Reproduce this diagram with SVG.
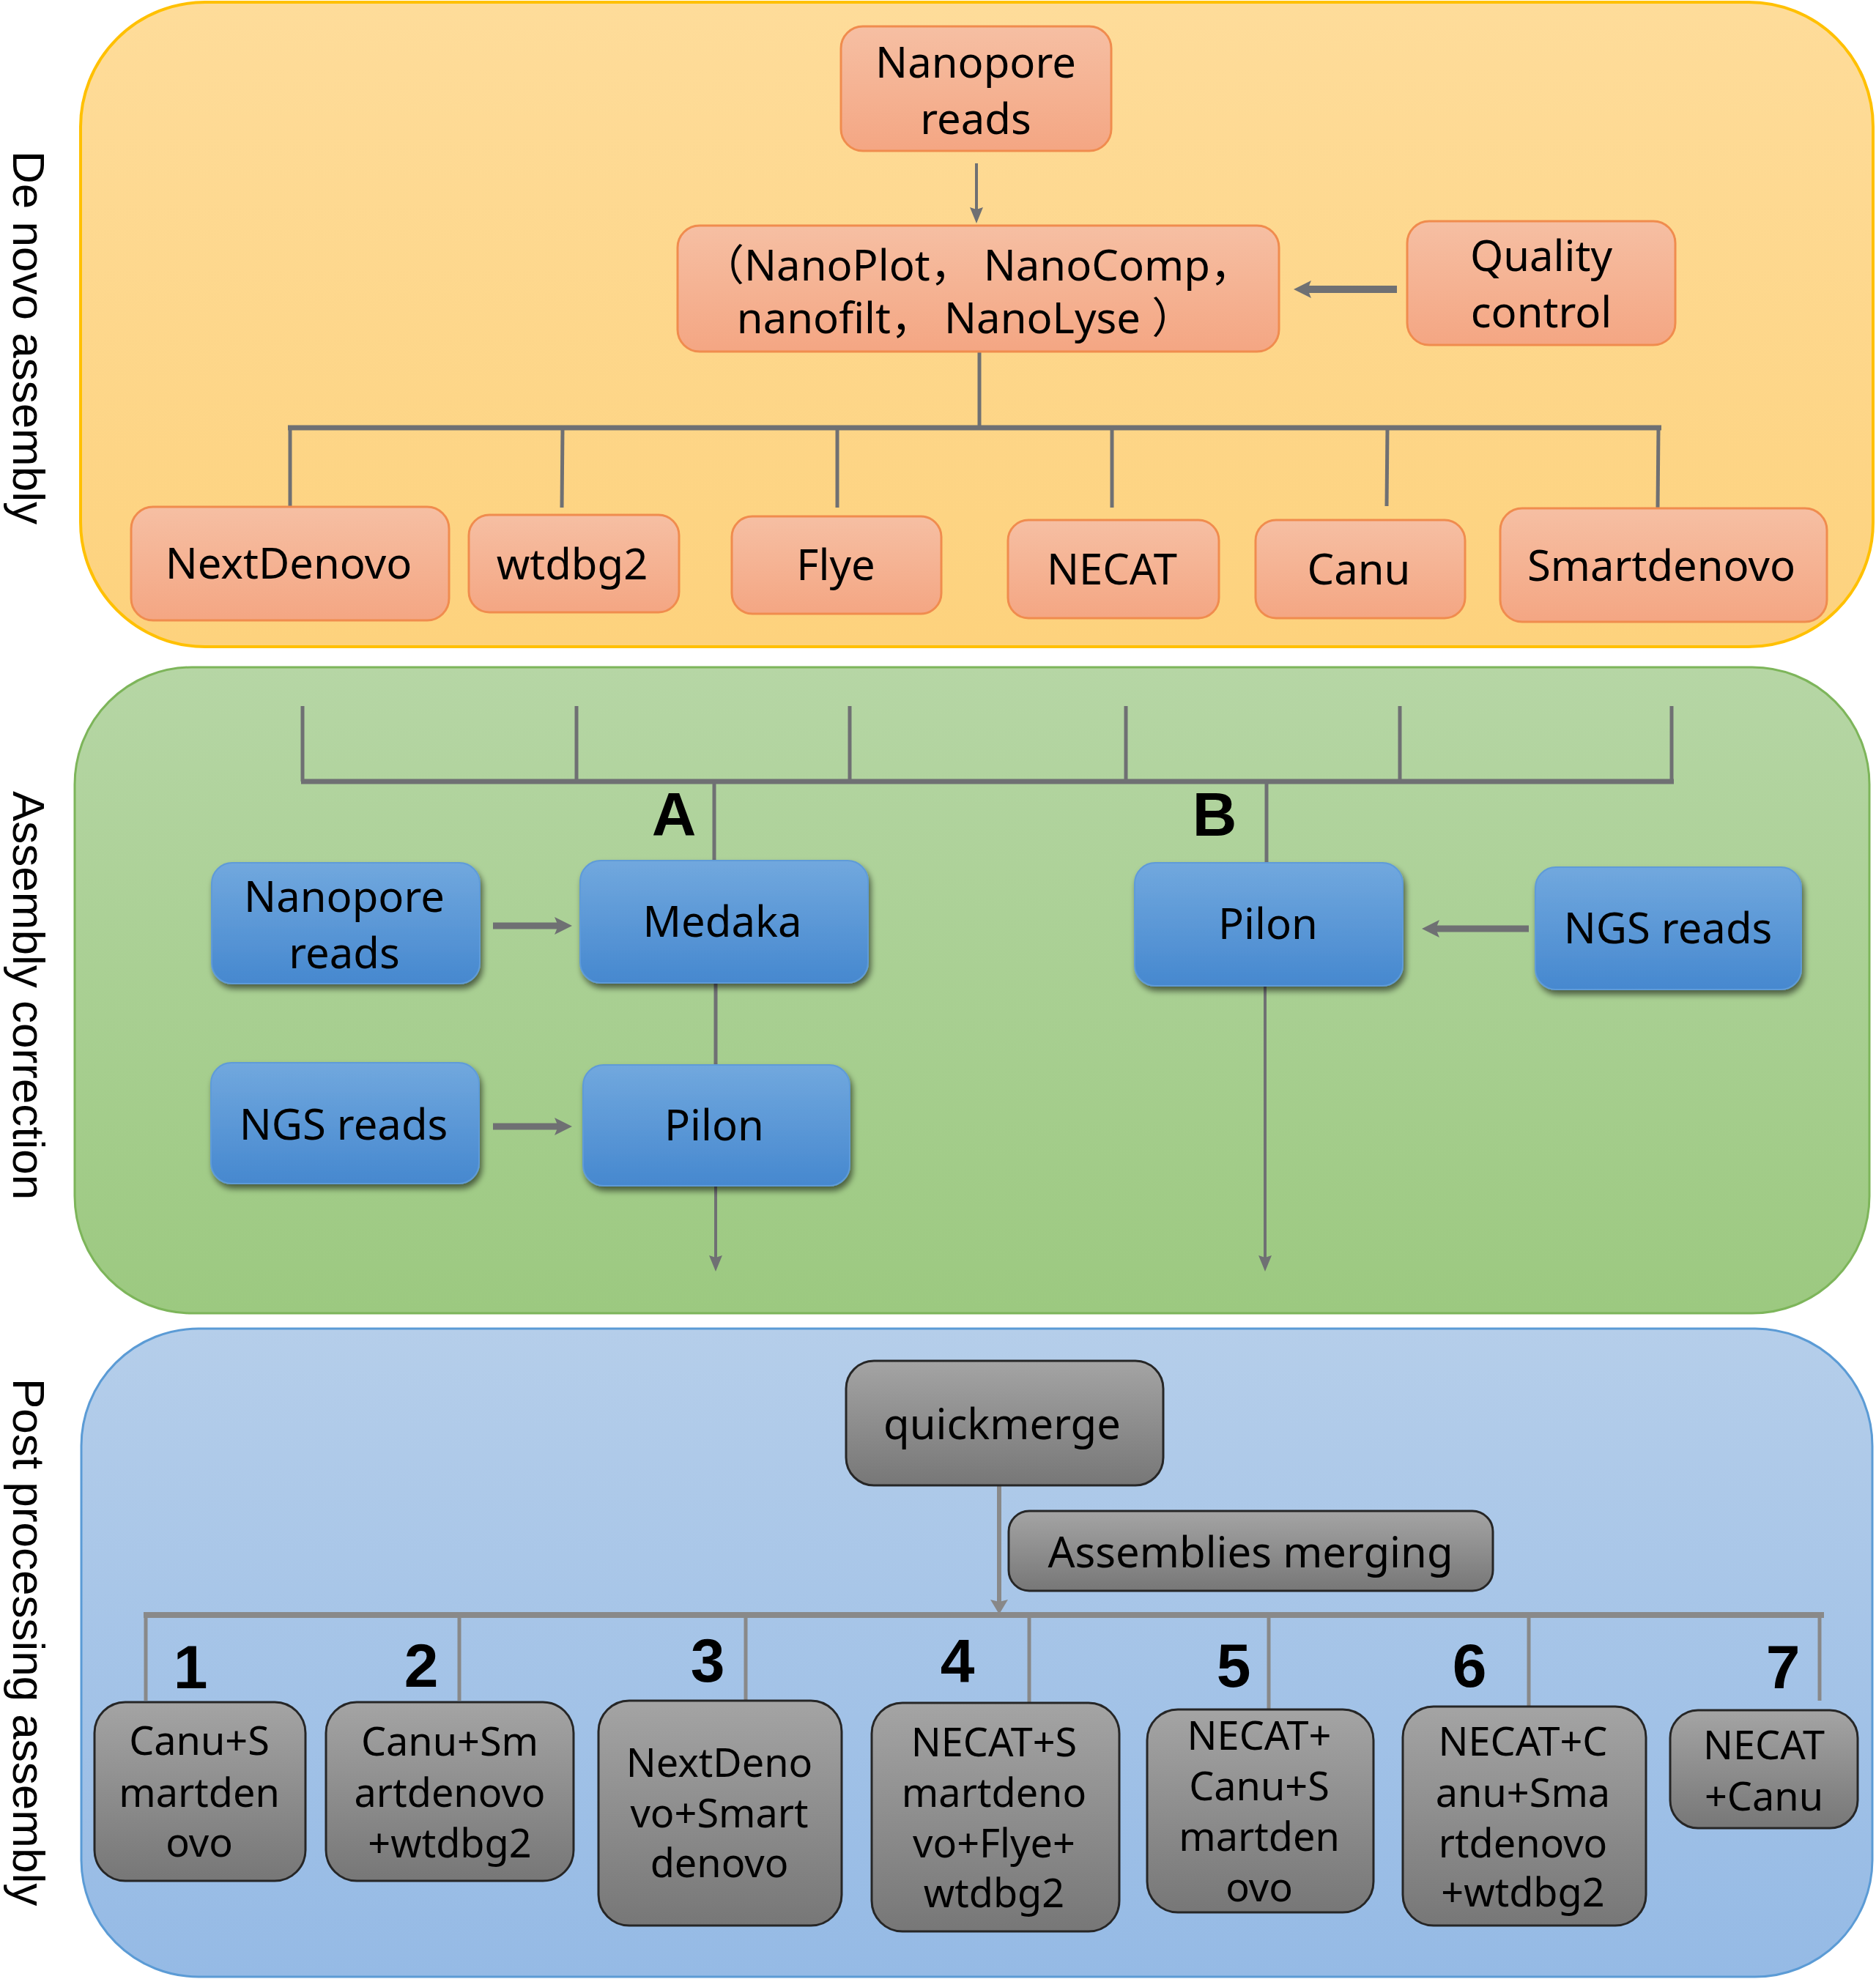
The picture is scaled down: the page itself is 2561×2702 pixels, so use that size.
<svg xmlns="http://www.w3.org/2000/svg" width="2561" height="2702" viewBox="0 0 2561 2702">
<defs>
<linearGradient id="gYP" x1="0" y1="0" x2="0" y2="1"><stop offset="0" stop-color="#FEDC9A"/><stop offset="1" stop-color="#FDD27D"/></linearGradient>
<linearGradient id="gGP" x1="0" y1="0" x2="0" y2="1"><stop offset="0" stop-color="#B6D6A5"/><stop offset="1" stop-color="#9CC980"/></linearGradient>
<linearGradient id="gBP" x1="0" y1="0" x2="0" y2="1"><stop offset="0" stop-color="#B5CEEA"/><stop offset="1" stop-color="#95BAE5"/></linearGradient>
<linearGradient id="gSal" x1="0" y1="0" x2="0" y2="1"><stop offset="0" stop-color="#F6BFA3"/><stop offset="1" stop-color="#F4A683"/></linearGradient>
<linearGradient id="gBlu" x1="0" y1="0" x2="0" y2="1"><stop offset="0" stop-color="#71A8DE"/><stop offset="1" stop-color="#4688CF"/></linearGradient>
<linearGradient id="gGry" x1="0" y1="0" x2="0" y2="1"><stop offset="0" stop-color="#A4A4A4"/><stop offset="1" stop-color="#777777"/></linearGradient>
<filter id="shadow" x="-10%" y="-10%" width="125%" height="130%">
<feGaussianBlur in="SourceAlpha" stdDeviation="4"/>
<feOffset dx="3" dy="6" result="b"/>
<feComponentTransfer><feFuncA type="linear" slope="0.55"/></feComponentTransfer>
<feMerge><feMergeNode/><feMergeNode in="SourceGraphic"/></feMerge>
</filter>
<marker id="aThick" markerUnits="userSpaceOnUse" markerWidth="26" markerHeight="26" refX="5" refY="12" orient="auto">
<path d="M0,0 L24,12 L0,24 L5,12 Z" fill="#6F7073"/>
</marker>
<marker id="aThin" markerUnits="userSpaceOnUse" markerWidth="24" markerHeight="20" refX="3" refY="9" orient="auto">
<path d="M0,0 L22,9 L0,18 L3,9 Z" fill="#6F7073"/>
</marker>
<marker id="aThinG" markerUnits="userSpaceOnUse" markerWidth="22" markerHeight="26" refX="3" refY="12" orient="auto">
<path d="M0,0 L20,12 L0,24 L3,12 Z" fill="#888888"/>
</marker>
</defs>
<style>
.side{font-family:"Liberation Sans",Arial,sans-serif;font-size:62px;fill:#000}
.t{font-family:"Noto Sans","Noto Sans CJK SC",sans-serif;font-size:58px;fill:#000;text-anchor:middle}
.ts{font-family:"Noto Sans","Noto Sans CJK SC",sans-serif;font-size:54px;fill:#000;text-anchor:middle}
.lbl{font-family:"Liberation Sans",Arial,sans-serif;font-weight:bold;font-size:84px;fill:#000;text-anchor:middle}
.sal{fill:url(#gSal);stroke:#F08C4E;stroke-width:3}
.blu{fill:url(#gBlu);stroke:#5E9BD8;stroke-width:2;filter:url(#shadow)}
.gry{fill:url(#gGry);stroke:#262626;stroke-width:3}
.ln{stroke:#6F7073;fill:none}
.lg{stroke:#898989;fill:none}
</style>

<!-- panels -->
<g id="panel-denovo">
<rect x="110" y="3" width="2447" height="880" rx="170" fill="url(#gYP)" stroke="#FFC000" stroke-width="4"/>
<text class="side" transform="translate(18,206) rotate(90)">De novo assembly</text>
</g>
<g id="panel-correction">
<rect x="102" y="911" width="2450" height="882" rx="160" fill="url(#gGP)" stroke="#7DB55A" stroke-width="3"/>
<text class="side" transform="translate(18,1080) rotate(90)">Assembly correction</text>
</g>
<g id="panel-post">
<rect x="111" y="1814" width="2445" height="885" rx="160" fill="url(#gBP)" stroke="#5B9BD5" stroke-width="3"/>
<text class="side" transform="translate(18,1882) rotate(90)">Post processing assembly</text>
</g>

<!-- connectors -->
<g id="connectors">
<line class="ln" x1="1333" y1="223" x2="1333" y2="286" stroke-width="4" marker-end="url(#aThin)"/>
<line class="ln" x1="1907" y1="395" x2="1785" y2="395" stroke-width="10" marker-end="url(#aThick)"/>
<line class="ln" x1="1337" y1="480" x2="1337" y2="584" stroke-width="5"/>
<line class="ln" x1="393" y1="584" x2="2268" y2="584" stroke-width="7"/>
<line class="ln" x1="396" y1="584" x2="396" y2="692" stroke-width="5"/>
<line class="ln" x1="768" y1="584" x2="767" y2="693" stroke-width="5"/>
<line class="ln" x1="1143" y1="584" x2="1143" y2="693" stroke-width="5"/>
<line class="ln" x1="1518" y1="584" x2="1518" y2="693" stroke-width="5"/>
<line class="ln" x1="1894" y1="584" x2="1893" y2="691" stroke-width="5"/>
<line class="ln" x1="2264" y1="584" x2="2263" y2="694" stroke-width="5"/>

<line class="ln" x1="413" y1="964" x2="413" y2="1067" stroke-width="5"/>
<line class="ln" x1="787" y1="964" x2="787" y2="1067" stroke-width="5"/>
<line class="ln" x1="1160" y1="964" x2="1160" y2="1067" stroke-width="5"/>
<line class="ln" x1="1537" y1="964" x2="1537" y2="1067" stroke-width="5"/>
<line class="ln" x1="1911" y1="964" x2="1911" y2="1067" stroke-width="5"/>
<line class="ln" x1="2282" y1="964" x2="2282" y2="1067" stroke-width="5"/>
<line class="ln" x1="411" y1="1067" x2="2285" y2="1067" stroke-width="7"/>
<line class="ln" x1="975" y1="1067" x2="975" y2="1175" stroke-width="5"/>
<line class="ln" x1="1729" y1="1067" x2="1729" y2="1178" stroke-width="5"/>
<line class="ln" x1="673" y1="1264" x2="762" y2="1264" stroke-width="9" marker-end="url(#aThick)"/>
<line class="ln" x1="673" y1="1538" x2="762" y2="1538" stroke-width="9" marker-end="url(#aThick)"/>
<line class="ln" x1="2087" y1="1268" x2="1960" y2="1268" stroke-width="9" marker-end="url(#aThick)"/>
<line class="ln" x1="977" y1="1343" x2="977" y2="1454" stroke-width="5"/>
<line class="ln" x1="977" y1="1619" x2="977" y2="1717" stroke-width="4" marker-end="url(#aThin)"/>
<line class="ln" x1="1727" y1="1346" x2="1727" y2="1717" stroke-width="4" marker-end="url(#aThin)"/>

<line class="lg" x1="1364" y1="2028" x2="1364" y2="2187" stroke-width="6" marker-end="url(#aThinG)"/>
<line class="lg" x1="196" y1="2205" x2="2490" y2="2205" stroke-width="8"/>
<line class="lg" x1="199" y1="2205" x2="199" y2="2322" stroke-width="5"/>
<line class="lg" x1="627" y1="2205" x2="627" y2="2322" stroke-width="5"/>
<line class="lg" x1="1018" y1="2205" x2="1018" y2="2322" stroke-width="5"/>
<line class="lg" x1="1405" y1="2205" x2="1405" y2="2325" stroke-width="5"/>
<line class="lg" x1="1732" y1="2205" x2="1732" y2="2334" stroke-width="5"/>
<line class="lg" x1="2087" y1="2205" x2="2087" y2="2330" stroke-width="5"/>
<line class="lg" x1="2484" y1="2205" x2="2484" y2="2322" stroke-width="5"/>
</g>

<!-- De novo assembly nodes -->
<g id="n-nanopore-reads-top">
<rect class="sal" x="1148" y="36" width="369" height="170" rx="30"/>
<text class="t" x="1332" y="106">Nanopore</text>
<text class="t" x="1332" y="183">reads</text>
</g>
<g id="n-qc-tools">
<rect class="sal" x="925" y="308" width="821" height="172" rx="30"/>
<text class="t" x="1334" y="383">（NanoPlot，  NanoComp，</text>
<text class="t" x="1318" y="455">nanofilt，  NanoLyse ）</text>
</g>
<g id="n-quality-control">
<rect class="sal" x="1921" y="302" width="366" height="169" rx="30"/>
<text class="t" x="2104" y="370">Quality</text>
<text class="t" x="2104" y="447">control</text>
</g>
<g id="n-nextdenovo">
<rect class="sal" x="179" y="692" width="434" height="155" rx="30"/>
<text class="t" x="394" y="790">NextDenovo</text>
</g>
<g id="n-wtdbg2">
<rect class="sal" x="640" y="703" width="287" height="133" rx="28"/>
<text class="t" x="781" y="791">wtdbg2</text>
</g>
<g id="n-flye">
<rect class="sal" x="999" y="705" width="286" height="133" rx="28"/>
<text class="t" x="1141" y="792">Flye</text>
</g>
<g id="n-necat">
<rect class="sal" x="1376" y="710" width="288" height="134" rx="28"/>
<text class="t" x="1518" y="798">NECAT</text>
</g>
<g id="n-canu">
<rect class="sal" x="1714" y="710" width="286" height="134" rx="28"/>
<text class="t" x="1855" y="798">Canu</text>
</g>
<g id="n-smartdenovo">
<rect class="sal" x="2048" y="694" width="446" height="155" rx="30"/>
<text class="t" x="2268" y="793">Smartdenovo</text>
</g>

<!-- Assembly correction nodes -->
<g id="lbl-A"><text class="lbl" x="920" y="1141">A</text></g>
<g id="lbl-B"><text class="lbl" x="1658" y="1141">B</text></g>
<g id="n-nanopore-reads-A">
<rect class="blu" x="289" y="1178" width="366" height="165" rx="28"/>
<text class="t" x="470" y="1245">Nanopore</text>
<text class="t" x="470" y="1322">reads</text>
</g>
<g id="n-medaka">
<rect class="blu" x="792" y="1175" width="393" height="167" rx="28"/>
<text class="t" x="986" y="1279">Medaka</text>
</g>
<g id="n-ngs-reads-A">
<rect class="blu" x="288" y="1451" width="366" height="165" rx="28"/>
<text class="t" x="469" y="1556">NGS reads</text>
</g>
<g id="n-pilon-A">
<rect class="blu" x="796" y="1454" width="364" height="165" rx="28"/>
<text class="t" x="975" y="1557">Pilon</text>
</g>
<g id="n-pilon-B">
<rect class="blu" x="1549" y="1178" width="366" height="168" rx="28"/>
<text class="t" x="1731" y="1282">Pilon</text>
</g>
<g id="n-ngs-reads-B">
<rect class="blu" x="2096" y="1184" width="363" height="167" rx="28"/>
<text class="t" x="2277" y="1288">NGS reads</text>
</g>

<!-- Post processing nodes -->
<g id="n-quickmerge">
<rect class="gry" x="1155" y="1858" width="433" height="170" rx="38"/>
<text class="t" x="1368" y="1965">quickmerge</text>
</g>
<g id="n-assemblies-merging">
<rect class="gry" x="1377" y="2063" width="661" height="109" rx="28"/>
<text class="t" x="1707" y="2140">Assemblies merging</text>
</g>
<g id="num-1"><text class="lbl" x="260" y="2305">1</text></g>
<g id="num-2"><text class="lbl" x="575" y="2303">2</text></g>
<g id="num-3"><text class="lbl" x="966" y="2296">3</text></g>
<g id="num-4"><text class="lbl" x="1307" y="2297">4</text></g>
<g id="num-5"><text class="lbl" x="1684" y="2303">5</text></g>
<g id="num-6"><text class="lbl" x="2006" y="2303">6</text></g>
<g id="num-7"><text class="lbl" x="2434" y="2305">7</text></g>
<g id="n-combo-1">
<rect class="gry" x="129" y="2324" width="288" height="244" rx="42"/>
<text class="ts" x="272" y="2396">Canu+S</text>
<text class="ts" x="272" y="2467">martden</text>
<text class="ts" x="272" y="2535">ovo</text>
</g>
<g id="n-combo-2">
<rect class="gry" x="445" y="2324" width="338" height="244" rx="42"/>
<text class="ts" x="614" y="2397">Canu+Sm</text>
<text class="ts" x="614" y="2467">artdenovo</text>
<text class="ts" x="614" y="2536">+wtdbg2</text>
</g>
<g id="n-combo-3">
<rect class="gry" x="817" y="2322" width="332" height="307" rx="42"/>
<text class="ts" x="982" y="2426">NextDeno</text>
<text class="ts" x="982" y="2495">vo+Smart</text>
<text class="ts" x="982" y="2563">denovo</text>
</g>
<g id="n-combo-4">
<rect class="gry" x="1190" y="2325" width="338" height="312" rx="42"/>
<text class="ts" x="1357" y="2398">NECAT+S</text>
<text class="ts" x="1357" y="2467">martdeno</text>
<text class="ts" x="1357" y="2536">vo+Flye+</text>
<text class="ts" x="1357" y="2604">wtdbg2</text>
</g>
<g id="n-combo-5">
<rect class="gry" x="1566" y="2334" width="309" height="277" rx="42"/>
<text class="ts" x="1719" y="2389">NECAT+</text>
<text class="ts" x="1719" y="2458">Canu+S</text>
<text class="ts" x="1719" y="2527">martden</text>
<text class="ts" x="1719" y="2596">ovo</text>
</g>
<g id="n-combo-6">
<rect class="gry" x="1915" y="2330" width="332" height="299" rx="42"/>
<text class="ts" x="2079" y="2397">NECAT+C</text>
<text class="ts" x="2079" y="2467">anu+Sma</text>
<text class="ts" x="2079" y="2536">rtdenovo</text>
<text class="ts" x="2079" y="2603">+wtdbg2</text>
</g>
<g id="n-combo-7">
<rect class="gry" x="2280" y="2335" width="256" height="161" rx="38"/>
<text class="ts" x="2408" y="2402">NECAT</text>
<text class="ts" x="2408" y="2472">+Canu</text>
</g>
</svg>
